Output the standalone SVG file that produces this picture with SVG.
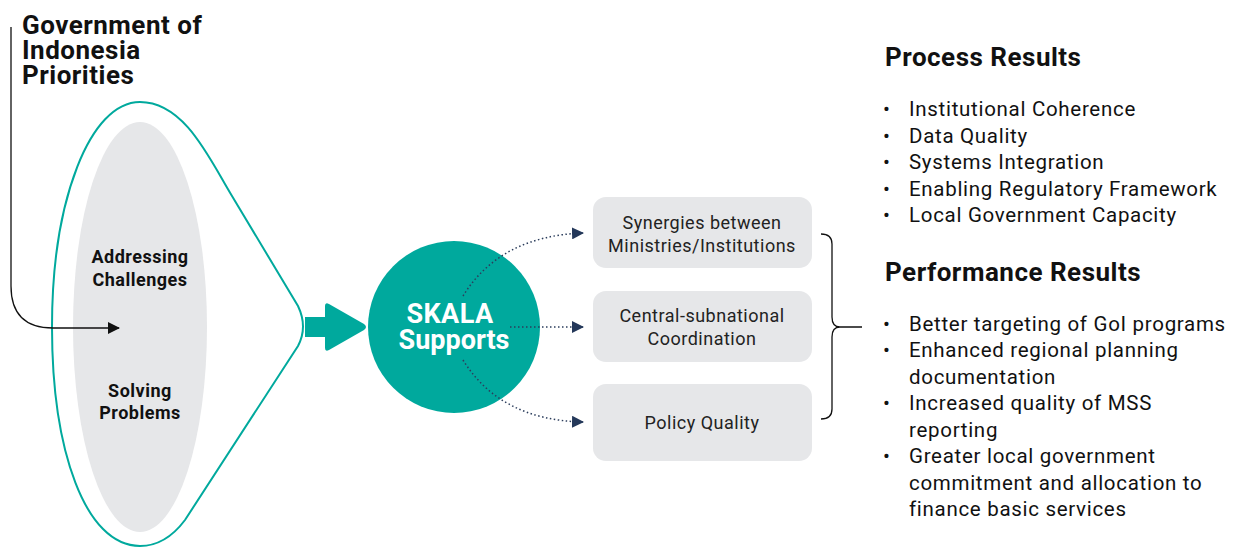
<svg xmlns="http://www.w3.org/2000/svg" width="1236" height="548" viewBox="0 0 1236 548">
<style>
text{font-family:Roboto,"Liberation Sans",sans-serif;fill:#111}
.t{font-size:26px;font-weight:700;letter-spacing:0.5px}
.lb{font-size:18px;font-weight:700;text-anchor:middle;letter-spacing:0.5px}
.bx{font-size:18px;text-anchor:middle;fill:#222;letter-spacing:0.5px}
.li{font-size:20.5px;fill:#111;letter-spacing:0.7px}
.dot{fill:none;stroke:#2b3d5c;stroke-width:1.5;stroke-dasharray:1.5 2.5}
.box{fill:#e6e7e9}
</style>
<defs>
<marker id="nav" viewBox="0 0 12 12" refX="11" refY="6" markerWidth="12" markerHeight="12" markerUnits="userSpaceOnUse" orient="auto"><path d="M0,0 L12,6 L0,12 Z" fill="#24385a"/></marker>
<marker id="blk" viewBox="0 0 12 12" refX="11" refY="6" markerWidth="12" markerHeight="12" markerUnits="userSpaceOnUse" orient="auto"><path d="M0,0 L12,6 L0,12 Z" fill="#111"/></marker>
</defs>
<g id="title">
<text class="t" x="22" y="34">Government of</text>
<text class="t" x="22" y="59">Indonesia</text>
<text class="t" x="22" y="84">Priorities</text>
</g>
<g id="priorities-funnel">
<path d="M140 102 C185 102 210 160 232 196 L298 306 Q308 327 298 346 L185 520 C170 540 155 546 140 546 C85 546 52 450 52 327 C52 200 90 102 140 102 Z" fill="#fff" stroke="#00a99d" stroke-width="2"/>
<ellipse cx="140" cy="327" rx="67" ry="205" fill="#e6e7e9"/>
<text class="lb" x="140" y="263">Addressing</text>
<text class="lb" x="140" y="286">Challenges</text>
<text class="lb" x="140" y="397">Solving</text>
<text class="lb" x="140" y="419">Problems</text>
</g>
<g id="skala">
<circle cx="454" cy="327" r="86" fill="#00a99d"/>
<text x="450" y="323" text-anchor="middle" font-size="27" font-weight="700" letter-spacing="0.4" style="fill:#fff">SKALA</text>
<text x="454" y="349" text-anchor="middle" font-size="27" font-weight="700" style="fill:#fff">Supports</text>
</g>
<g id="box-synergies">
<rect class="box" x="593" y="197" width="219" height="71" rx="13"/>
<text class="bx" x="702" y="229">Synergies between</text>
<text class="bx" x="702" y="252">Ministries/Institutions</text>
</g>
<g id="box-coordination">
<rect class="box" x="593" y="291" width="219" height="71" rx="13"/>
<text class="bx" x="702" y="322">Central-subnational</text>
<text class="bx" x="702" y="345">Coordination</text>
</g>
<g id="box-policy">
<rect class="box" x="593" y="384" width="219" height="77" rx="13"/>
<text class="bx" x="702" y="429">Policy Quality</text>
</g>
<g id="results">
<text class="t" x="885" y="66">Process Results</text>
<g class="li">
<text x="883" y="116">•</text><text x="909" y="116">Institutional Coherence</text>
<text x="883" y="142.5">•</text><text x="909" y="142.5">Data Quality</text>
<text x="883" y="169">•</text><text x="909" y="169">Systems Integration</text>
<text x="883" y="195.5">•</text><text x="909" y="195.5">Enabling Regulatory Framework</text>
<text x="883" y="222">•</text><text x="909" y="222">Local Government Capacity</text>
</g>
<text class="t" x="885" y="281">Performance Results</text>
<g class="li">
<text x="883" y="331">•</text><text x="909" y="331">Better targeting of GoI programs</text>
<text x="883" y="357">•</text><text x="909" y="357">Enhanced regional planning</text>
<text x="909" y="384">documentation</text>
<text x="883" y="410">•</text><text x="909" y="410">Increased quality of MSS</text>
<text x="909" y="437">reporting</text>
<text x="883" y="463">•</text><text x="909" y="463">Greater local government</text>
<text x="909" y="490">commitment and allocation to</text>
<text x="909" y="516">finance basic services</text>
</g>
</g>
<g id="connectors">
<path d="M11 27 V286 Q11 328 53 328 H119" fill="none" stroke="#111" stroke-width="1.3" marker-end="url(#blk)"/>
<path d="M305 317 H325 V306 Q325 302 329 304 L364 324 Q368 327 364 330 L329 350 Q325 352 325 348 V337 H305 Z" fill="#00a99d"/>
<path class="dot" d="M463 296 Q500 236 583 233" marker-end="url(#nav)"/>
<path class="dot" d="M510 327 H583" marker-end="url(#nav)"/>
<path class="dot" d="M463 360 Q500 420 583 422" marker-end="url(#nav)"/>
<path d="M821 234 Q832 234 832 244 V317 Q832 327 840 327 H862 M840 327 Q832 327 832 337 V409 Q832 419 821 419" fill="none" stroke="#111" stroke-width="1.3"/>
</g>
</svg>
